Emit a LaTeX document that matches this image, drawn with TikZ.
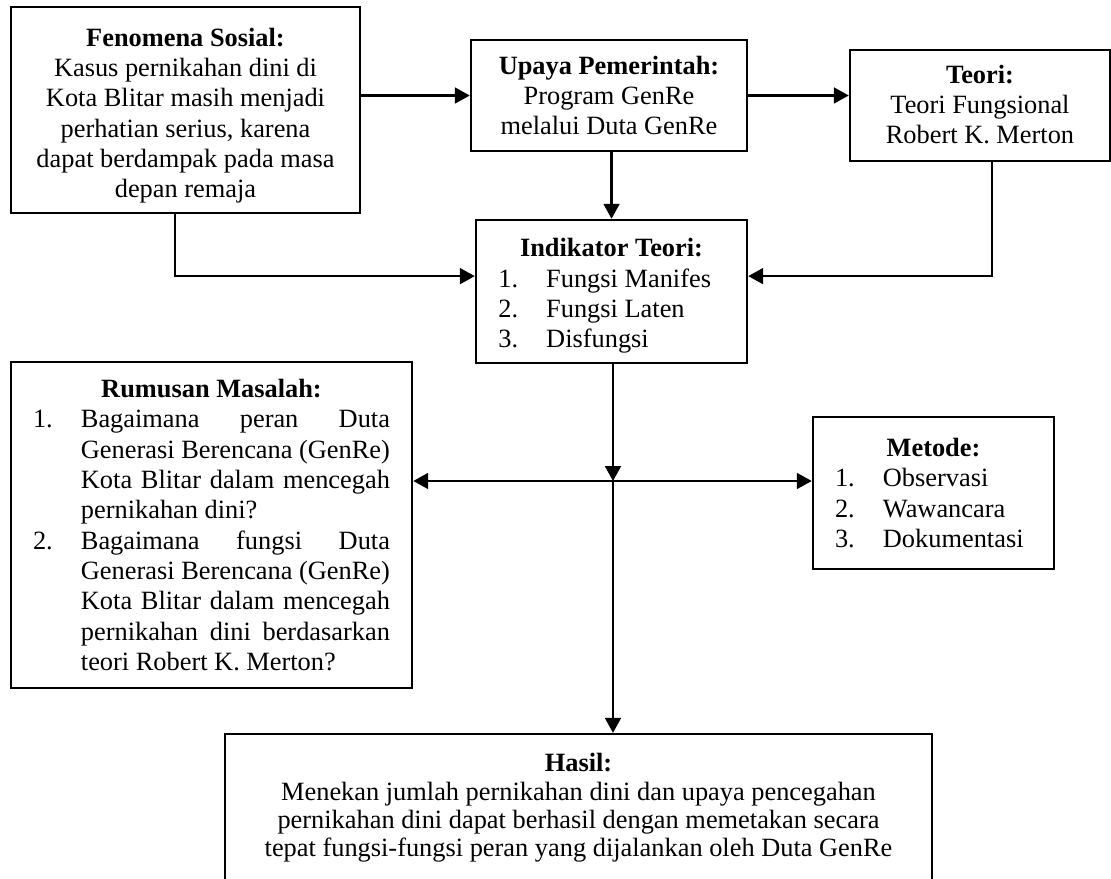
\documentclass[tikz,border=0pt]{standalone}
\usepackage{fontspec}
\setmainfont{Liberation Serif}
\usetikzlibrary{arrows.meta,calc}
\newcommand\lowtext[2]{\raisebox{-#1}[\height][\depth]{\begin{tabular}{@{}c@{}}#2\end{tabular}}}
\begin{document}
\begin{tikzpicture}[x=0.455pt,y=-0.455pt,
  every node/.style={font=\fontsize{12}{13.8}\selectfont},
  box/.style={draw,line width=1.1pt,inner sep=0pt,align=center},
  arr/.style={line width=1.1pt,-{Triangle[length=6.8pt,width=7.2pt]}},
  ln/.style={line width=1.1pt}]
\useasboundingbox (0,0) rectangle (1111,879);
\clip (0,0) rectangle (1111,879);
\node[box,minimum width=158.8pt,minimum height=93.7pt] (fen) at (185.5,110)
  {\lowtext{2.7pt}{\textbf{Fenomena Sosial:}\\Kasus pernikahan dini di\\Kota Blitar masih menjadi\\perhatian serius, karena\\dapat berdampak pada masa\\depan remaja}};
\node[box,minimum width=125.6pt,minimum height=50.5pt] (upa) at (609,95.5)
  {\lowtext{1.3pt}{\textbf{Upaya Pemerintah:}\\Program GenRe\\melalui Duta GenRe}};
\node[box,minimum width=118.3pt,minimum height=50.5pt] (teo) at (980,105.5)
  {\lowtext{0.9pt}{\textbf{Teori:}\\Teori Fungsional\\Robert K. Merton}};
\node[box,minimum width=123.3pt,minimum height=65.1pt] (ind) at (611.5,291.5)
  {\lowtext{2.2pt}{\textbf{Indikator Teori:}\\
   \makebox[103pt][l]{\makebox[21.8pt][l]{1.}Fungsi Manifes}\\
   \makebox[103pt][l]{\makebox[21.8pt][l]{2.}Fungsi Laten}\\
   \makebox[103pt][l]{\makebox[21.8pt][l]{3.}Disfungsi}}};
\node[box,minimum width=182.5pt,minimum height=148.3pt] (rum) at (211.5,525)
  {\textbf{Rumusan Masalah:}\\
   \parbox[t]{162.4pt}{\leftskip=0pt\rightskip=0pt\parfillskip=0pt plus 1fil\parindent=0pt
   \hangindent=21.8pt\hangafter=1\noindent\makebox[21.8pt][l]{1.}Bagaimana peran Duta\linebreak Generasi Berencana (GenRe)\linebreak Kota Blitar dalam mencegah\linebreak pernikahan dini?\par
   \hangindent=21.8pt\hangafter=1\noindent\makebox[21.8pt][l]{2.}Bagaimana fungsi Duta\linebreak Generasi Berencana (GenRe)\linebreak Kota Blitar dalam mencegah\linebreak pernikahan dini berdasarkan\linebreak teori Robert K. Merton?}};
\node[box,minimum width=109.7pt,minimum height=69.2pt] (met) at (933.5,493)
  {\textbf{Metode:}\\
   \makebox[89.6pt][l]{\makebox[21.8pt][l]{1.}Observasi}\\
   \makebox[89.6pt][l]{\makebox[21.8pt][l]{2.}Wawancara}\\
   \makebox[89.6pt][l]{\makebox[21.8pt][l]{3.}Dokumentasi}};
\node[box,minimum width=321.7pt,minimum height=67.3pt,font=\fontsize{12}{12.9}\selectfont] (has) at (578.5,808)
  {\textbf{Hasil:}\\Menekan jumlah pernikahan dini dan upaya pencegahan\\pernikahan dini dapat berhasil dengan memetakan secara\\tepat fungsi-fungsi peran yang dijalankan oleh Duta GenRe};
\coordinate (j) at (613,481);
\draw[arr] (fen.east |- upa.west) -- (upa.west);
\draw[arr] (upa.east) -- (upa.east -| teo.west);
\draw[arr] (ind.north |- upa.south) -- (ind.north);
\draw[arr] ([xshift=-4.8pt]fen.south) |- ([yshift=7pt]ind.west);
\draw[arr] ([xshift=5.5pt]teo.south) |- ([yshift=7pt]ind.east);
\draw[arr] (j |- ind.south) -- (j);
\draw[arr] (j) -- (rum.east |- j);
\draw[arr] (j) -- (met.west |- j);
\draw[arr] (j) -- (j |- has.north);
\end{tikzpicture}
\end{document}
